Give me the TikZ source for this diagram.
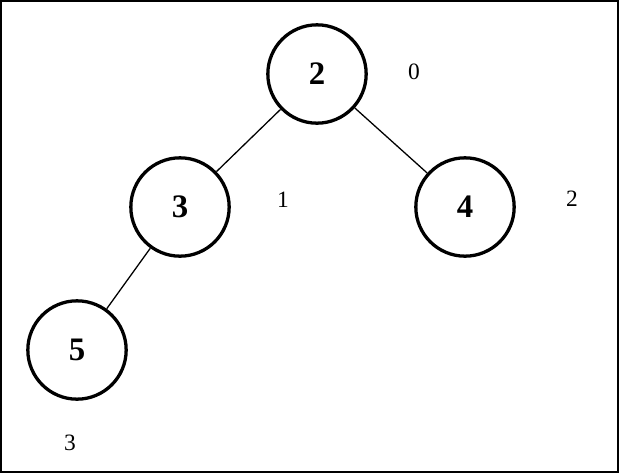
\documentclass[tikz,border=0pt]{standalone}
\usepackage{fontspec}
\setmainfont{Liberation Serif}
\begin{document}
\begin{tikzpicture}[x=0.03cm, y=-0.03cm,
  vnode/.style={circle, draw, line width=2.8pt, minimum size=2.95cm, inner sep=0pt, font=\fontsize{28}{28}\selectfont\bfseries},
  idx/.style={font=\fontsize{20}{20}\selectfont}]

  % frame
  \draw[line width=1pt] (1,1) rectangle (618,472);
  \useasboundingbox (0,0) rectangle (619,473);

  %draw tree
  \node[vnode] (n2) at (317,74) {2};
  \node[vnode] (n3) at (180,207) {3};
  \node[vnode] (n4) at (465,207) {4};
  \node[vnode] (n5) at (77,350) {5};

  \draw[line width=1.1pt] (n2) -- (n3);
  \draw[line width=1.1pt] (n2) -- (n4);
  \draw[line width=1.1pt] (n3) -- (n5);

  %draw index
  \foreach \x/\y/\num/\name in {414/72/0/i0, 283/200/1/i1, 572/199/2/i2, 70/443/3/i3}{
    \node[idx] (\name) at (\x,\y) {\num};
  }
\end{tikzpicture}
\end{document}
